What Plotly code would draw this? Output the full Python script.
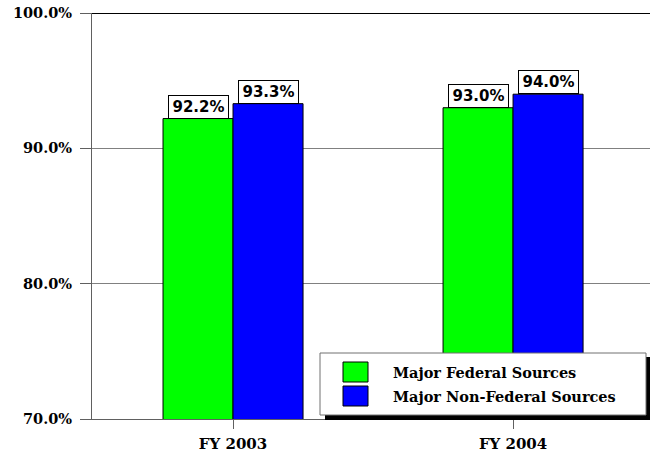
import plotly.graph_objects as go

categories = ["FY 2003", "FY 2004"]
series_names = ["Major Federal Sources", "Major Non-Federal Sources"]
federal = [92.2, 93.0]
non_federal = [93.3, 94.0]
colors = ["#00FF00", "#0000FF"]
y_ticks = [70, 80, 90, 100]

W, H = 650, 455
L, R, T, B = 92, 0, 13, 36
PW, PH = W - L - R, H - T - B


def px(x):
    return (x - L) / PW


def py(y):
    return (H - B - y) / PH


SERIF = "DejaVu Serif"
SANS = "DejaVu Sans"

fig = go.Figure()
for name, vals, col in zip(series_names, [federal, non_federal], colors):
    fig.add_trace(go.Bar(
        x=categories, y=vals, name=name,
        marker=dict(color=col, line=dict(color="black", width=1)),
        showlegend=False,
    ))

annotations = []
offsets = [-0.125, 0.125]
for si, vals in enumerate([federal, non_federal]):
    for ci, v in enumerate(vals):
        annotations.append(dict(
            x=ci + offsets[si], y=v, xref="x", yref="y",
            text=f"<b>{v:.1f}%</b>", showarrow=False,
            xanchor="center", yanchor="bottom",
            font=dict(family=SANS, size=15, color="black"),
            bgcolor="white", bordercolor="black", borderwidth=1,
            borderpad=1, width=57, height=20,
        ))

# manual legend
shapes = [
    dict(type="line", xref="paper", yref="y", x0=0, x1=1, y0=100, y1=100,
         line=dict(color="black", width=2), layer="above"),
    dict(type="rect", xref="paper", yref="paper",
         x0=px(325), x1=px(650), y0=py(420), y1=py(357),
         fillcolor="black", line=dict(width=0), layer="above"),
    dict(type="rect", xref="paper", yref="paper",
         x0=px(320), x1=px(646), y0=py(415), y1=py(353),
         fillcolor="white", line=dict(color="#707070", width=1), layer="above"),
]
sw = [(362, 382), (386, 406)]
for (y0, y1), col, name in zip(sw, colors, series_names):
    shapes.append(dict(type="rect", xref="paper", yref="paper",
                       x0=px(343), x1=px(368), y0=py(y1), y1=py(y0),
                       fillcolor=col, line=dict(color="black", width=1),
                       layer="above"))
    annotations.append(dict(
        x=px(391), y=py((y0 + y1) / 2), xref="paper", yref="paper",
        text=f"<b>{name}</b>", showarrow=False, xanchor="left", yanchor="middle",
        font=dict(family=SERIF, size=14.5, color="black"),
    ))

fig.update_layout(
    width=W, height=H,
    margin=dict(l=L, r=R, t=T, b=B, pad=0),
    paper_bgcolor="white", plot_bgcolor="white",
    barmode="group", bargap=0.5, bargroupgap=0,
    showlegend=False,
    shapes=shapes, annotations=annotations,
    xaxis=dict(
        range=[-0.5036, 1.489],
        showline=True, linecolor="#606060", linewidth=1,
        ticks="outside", ticklen=9, tickcolor="#606060",
        showgrid=False,
        tickfont=dict(family=SERIF, size=15, color="black"),
        ticklabelstandoff=2,
    ),
    yaxis=dict(
        range=[70, 100], tickvals=y_ticks,
        ticktext=[f"<b>{v:.1f}%</b>" for v in y_ticks],
        showgrid=True, gridcolor="#808080", gridwidth=1,
        showline=True, linecolor="#606060", linewidth=1,
        ticks="outside", ticklen=11, tickcolor="#606060",
        tickfont=dict(family=SERIF, size=14.5, color="black"),
        ticklabelstandoff=5,
        zeroline=False,
    ),
)
fig.update_xaxes(ticktext=[f"<b>{c}</b>" for c in categories], tickvals=categories)

fig.write_html(
    "out.html",
    config={"displayModeBar": False},
    post_script="document.body.style.margin='0';document.body.style.overflow='hidden';",
)
